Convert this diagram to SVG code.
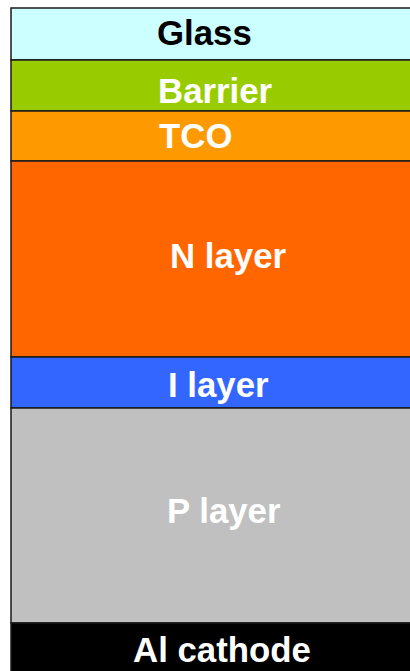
<svg xmlns="http://www.w3.org/2000/svg" width="410" height="671" viewBox="0 0 410 671">
  <style>
    .layer { stroke: #1a1a1a; stroke-width: 1.5; }
    .lbl { font-family: "Liberation Sans", Arial, sans-serif; font-weight: bold; font-size: 34.8px; fill: #ffffff; }
    .dark { fill: #000000; }
  </style>
  <rect width="410" height="671" fill="#ffffff"/>
  <g id="glass">
    <rect class="layer" x="11" y="8" width="410" height="52" fill="#CCFFFF" stroke="#555"/>
    <text class="lbl dark" x="157" y="45">Glass</text>
  </g>
  <g id="barrier">
    <rect class="layer" x="11" y="60" width="410" height="51" fill="#99CC00"/>
    <text class="lbl" x="158" y="103">Barrier</text>
  </g>
  <g id="tco">
    <rect class="layer" x="11" y="111" width="410" height="50" fill="#FF9900"/>
    <text class="lbl" x="159" y="148">TCO</text>
  </g>
  <g id="n-layer">
    <rect class="layer" x="11" y="161" width="410" height="196" fill="#FF6600"/>
    <text class="lbl" x="170" y="268">N layer</text>
  </g>
  <g id="i-layer">
    <rect class="layer" x="11" y="357" width="410" height="51" fill="#3366FF"/>
    <text class="lbl" x="168" y="397">I layer</text>
  </g>
  <g id="p-layer">
    <rect class="layer" x="11" y="408" width="410" height="215" fill="#C0C0C0"/>
    <text class="lbl" x="167" y="523">P layer</text>
  </g>
  <g id="al-cathode">
    <rect class="layer" x="11" y="623" width="410" height="60" fill="#000000"/>
    <text class="lbl" x="133" y="662">Al cathode</text>
  </g>
</svg>
